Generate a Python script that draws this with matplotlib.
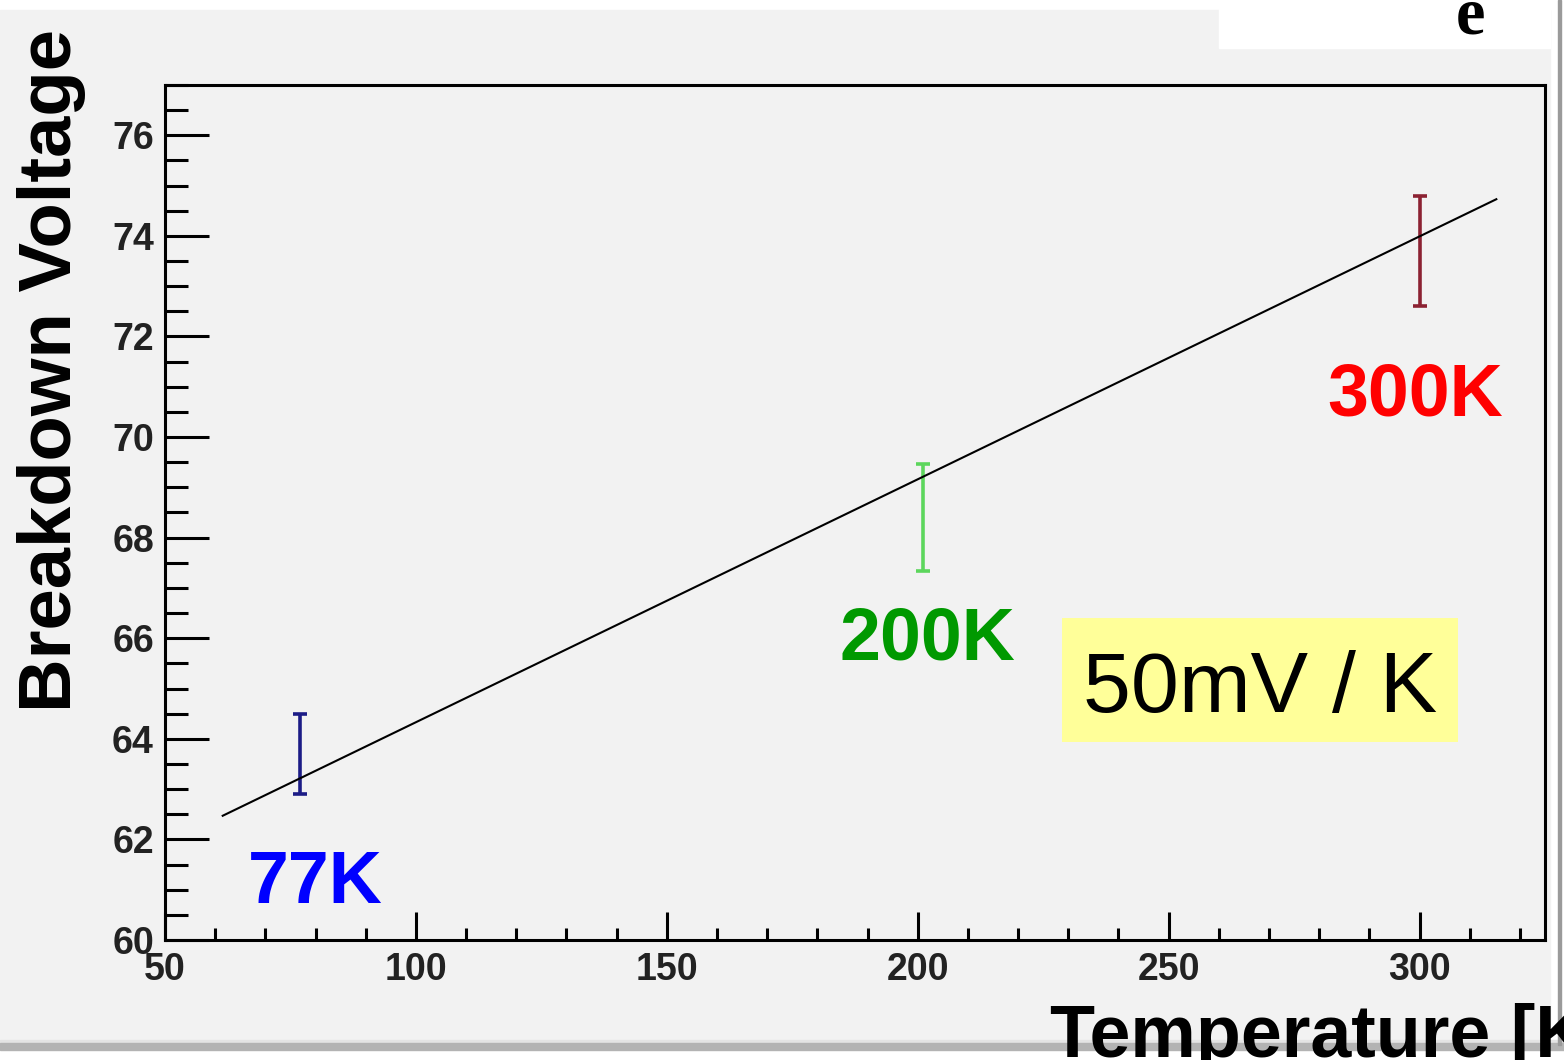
import matplotlib
matplotlib.use("Agg")
import matplotlib.pyplot as plt
from matplotlib.patches import Rectangle
from matplotlib.ticker import MultipleLocator

# measured points (temperature in K, breakdown voltage in V)
temps = [77, 201, 300]
voltages = [63.7, 68.4, 73.7]
errors = [0.8, 1.06, 1.1]
bar_colors = ["#1c1c86", "#5cd65c", "#8c2232"]

point_labels = ["77K", "200K", "300K"]
label_x = [79.9, 202.0, 299.2]
label_y = [61.13, 65.97, 70.82]
label_colors = ["#0000ff", "#009900", "#ff0000"]

# linear fit
fit_slope = 0.0483
fit_intercept = 59.50
fit_range = [61.5, 315.3]

W, H = 1564, 1060
fig = plt.figure(figsize=(W / 100, H / 100), dpi=100, facecolor="white")
plt.rcParams["font.family"] = ["Liberation Sans", "DejaVu Sans"]


def bg_rect(x, y, w, h, color):
    # x, y, w, h in pixels from the top-left corner
    fig.patches.append(Rectangle((x / W, 1 - (y + h) / H), w / W, h / H,
                                 transform=fig.transFigure, color=color, zorder=-5))


# slide-like background pieces
bg_rect(0, 10, 1550, 1030, "#f2f2f2")
bg_rect(1219, 0, 331, 48, "white")
bg_rect(0, 1040, 1564, 3, "#e4e4e4")
bg_rect(0, 1043, 1564, 7, "#b3b3b3")
bg_rect(1558, 0, 3, 1045, "#9a9a9a")

ax = fig.add_axes([165 / W, 1 - 940 / H, 1380 / W, 855 / H])
ax.set_zorder(2)
ax.set_facecolor("#f2f2f2")
ax.set_xlim(50, 325)
ax.set_ylim(60, 77)

for s in ax.spines.values():
    s.set_linewidth(2.2)
    s.set_color("black")

ax.xaxis.set_major_locator(MultipleLocator(50))
ax.xaxis.set_minor_locator(MultipleLocator(10))
ax.yaxis.set_major_locator(MultipleLocator(2))
ax.yaxis.set_minor_locator(MultipleLocator(0.5))
ax.tick_params(axis="both", which="both", direction="in", width=2.2,
               top=False, right=False, labelsize=27, labelcolor="#222222")
ax.tick_params(axis="x", which="major", length=20, pad=9)
ax.tick_params(axis="x", which="minor", length=8.6)
ax.tick_params(axis="y", which="major", length=31.7, pad=8)
ax.tick_params(axis="y", which="minor", length=16.6)
for lab in ax.get_xticklabels() + ax.get_yticklabels():
    lab.set_fontweight("bold")

# fit line
fx = fit_range
fy = [fit_intercept + fit_slope * v for v in fx]
ax.plot(fx, fy, color="black", lw=1.5, zorder=3)

for t, v, e, c in zip(temps, voltages, errors, bar_colors):
    ax.errorbar([t], [v], yerr=[e], fmt="none", ecolor=c, elinewidth=2.6,
                capsize=5, capthick=2.6, zorder=2)

for lx, ly, txt, c in zip(label_x, label_y, point_labels, label_colors):
    ax.text(lx, ly, txt, color=c, fontsize=53, fontweight="bold",
            ha="center", va="center")

# slope note on a yellow box
ax.add_patch(Rectangle((228.7, 63.94), 78.9, 2.46, facecolor="#ffff99",
                       edgecolor="none", zorder=4))
ax.text(268.3, 64.53, "50mV / K", fontsize=62, ha="center", va="baseline",
        color="black", zorder=5)

fig.text(52 / W, 1 - 370 / H, "Breakdown Voltage", rotation=90, fontsize=53.5,
         fontweight="bold", ha="center", va="center", zorder=3)
fig.text(1050 / W, 1 - 1057 / H, "Temperature [K]", fontsize=53,
         fontweight="bold", ha="left", va="baseline", zorder=3)
fig.text(1470 / W, 1 - 34 / H, "e", fontsize=48, fontweight="bold",
         family=["Liberation Serif", "DejaVu Serif"], ha="center", va="baseline",
         zorder=3)

fig.savefig("out.png", dpi=100, facecolor=fig.get_facecolor())
